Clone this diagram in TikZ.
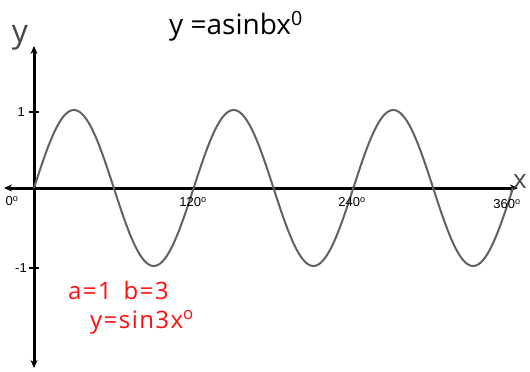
\documentclass[tikz,border=0pt]{standalone}
\usepackage{fontspec}
\setmainfont{Liberation Sans}
\newfontfamily\titlefont{Open Sans}
\newfontfamily\redfont[LetterSpace=6]{Open Sans}
\usetikzlibrary{arrows.meta}
\tikzset{
  axis/.style={line width=3pt, {Stealth[length=8pt,width=7pt]}-{Stealth[length=8pt,width=7pt]}},
  curve/.style={line width=2pt, draw=black!62},
  ticklab/.style={font=\fontsize{13}{14}\selectfont, inner sep=0pt},
  redtext/.style={text=red!95!white, font=\redfont\fontsize{24}{24}\selectfont, inner sep=0pt, anchor=west},
}
\begin{document}
\begin{tikzpicture}[x=1pt,y=-1pt]
\useasboundingbox (0,0) rectangle (530,372);
\coordinate (ytop) at (34,46);
\coordinate (ybot) at (34,368);
\coordinate (xl) at (4,188);
\coordinate (xr) at (518,188);
\draw[axis] (ybot) -- (ytop);
\draw[axis] (xl) -- (xr);
% ticks
\coordinate (t1) at (34,112);
\coordinate (tm1) at (34,268);
\draw[line width=2.6pt] ([xshift=-5pt]t1) -- ([xshift=5pt]t1);
\draw[line width=2.6pt] ([xshift=-5pt]tm1) -- ([xshift=5pt]tm1);
% curve
\draw[curve, domain=0:360, samples=240, smooth, variable=\t]
  plot ({34+\t/360*479}, {188-78*sin(3*\t)});
% labels
\node[ticklab, anchor=east] (l1) at (25,112) {1};
\node[ticklab, anchor=east] (lm1) at (27,268) {-1};
\node[ticklab] (l0) at (12,201) {0\textsuperscript{o}};
\node[ticklab] (l120) at (193,202) {120\textsuperscript{o}};
\node[ticklab] (l240) at (352,202) {240\textsuperscript{o}};
\node[ticklab] (l360) at (507,204) {360\textsuperscript{o}};
\node[font=\titlefont\fontsize{32}{32}\selectfont, text=black!72, inner sep=0pt] (ylab) at (20,38) {y};
\node[font=\titlefont\fontsize{26}{26}\selectfont, text=black!72, inner sep=0pt] (xlab) at (520,182) {x};
\node[font=\titlefont\fontsize{28}{28}\selectfont, inner sep=0pt] (title) at (236,26) {y =asinbx\textsuperscript{0}};
\node[redtext] (r1) at (68,290) {a=1 \,b=3};
\node[redtext] (r2) at (90,322) {y=sin3x\textsuperscript{o}};
\end{tikzpicture}
\end{document}
